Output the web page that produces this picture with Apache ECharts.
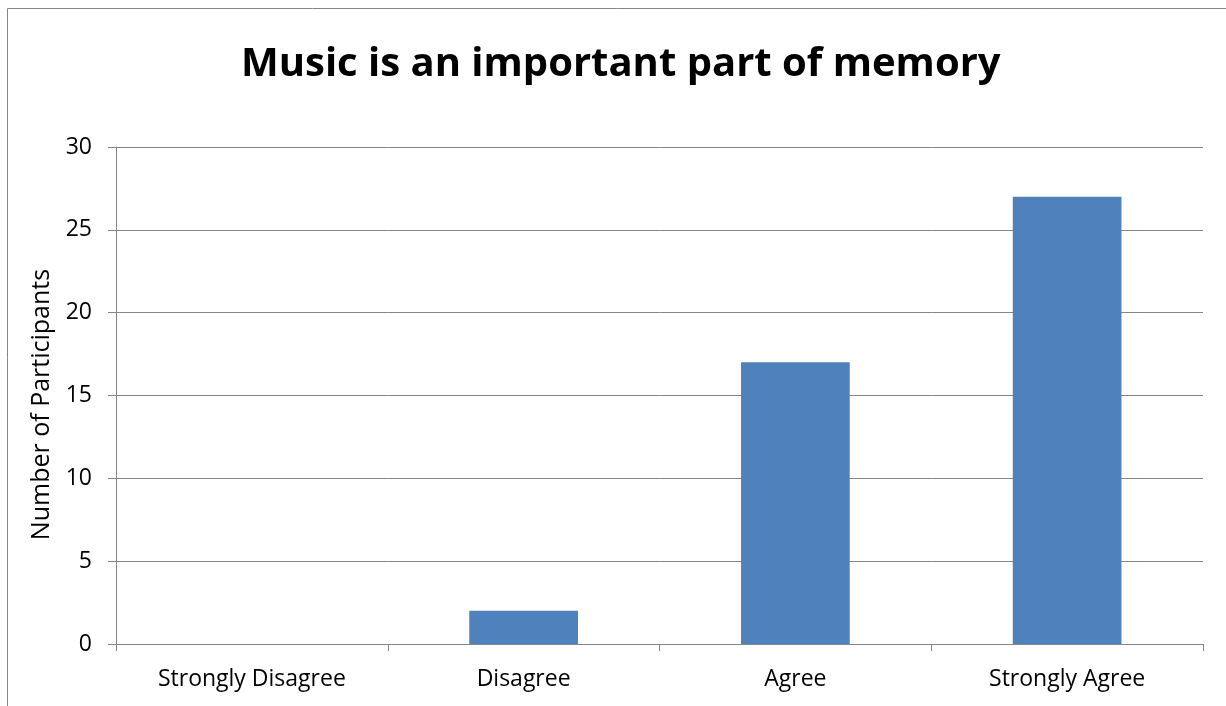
<!DOCTYPE html>
<html><head><meta charset="utf-8">
<script src="https://cdn.jsdelivr.net/npm/echarts@6/dist/echarts.min.js"></script>
<style>html,body{margin:0;padding:0;background:#fff}#c{width:1226px;height:706px}</style>
</head><body><div id="c"></div>
<script>
const categories = ['Strongly Disagree', 'Disagree', 'Agree', 'Strongly Agree'];
const participants = [0, 2, 17, 27];
const titleText = 'Music is an important part of memory';
const yAxisName = 'Number of Participants';

const chart = echarts.init(document.getElementById('c'));
const font = 'Open Sans';
chart.setOption({
  animation: false,
  backgroundColor: '#fff',
  title: {
    text: titleText, left: 236, top: 40,
    textStyle: { fontFamily: font, fontWeight: 'bold', fontSize: 40, color: '#000' }
  },
  graphic: [{
    type: 'rect', shape: { x: 7.5, y: 8.5, width: 1240, height: 720 },
    style: { fill: 'none', stroke: '#868686', lineWidth: 1 }, silent: true, z: -1
  }],
  grid: { left: 116, right: 23, top: 147, bottom: 62 },
  xAxis: {
    type: 'category', data: categories,
    axisLine: { lineStyle: { color: '#868686', width: 1 } },
    axisTick: { show: true, length: 7, alignWithLabel: false, lineStyle: { color: '#868686' } },
    axisLabel: { fontFamily: font, fontSize: 23, color: '#000', margin: 24 }
  },
  yAxis: {
    type: 'value', min: 0, max: 30, interval: 5,
    name: yAxisName, nameLocation: 'middle', nameGap: 53, nameRotate: 90,
    nameTextStyle: { fontFamily: font, fontSize: 25, color: '#000', padding: [0, 18, 0, 0] },
    axisLine: { show: true, lineStyle: { color: '#868686' } },
    axisTick: { show: true, length: 8, lineStyle: { color: '#868686' } },
    splitLine: { lineStyle: { color: '#868686', width: 1 } },
    axisLabel: { fontFamily: font, fontSize: 23, color: '#000', margin: 24 }
  },
  series: [{
    type: 'bar', data: participants, barWidth: '40%',
    itemStyle: { color: '#4F81BD' }
  }]
});
</script></body></html>
